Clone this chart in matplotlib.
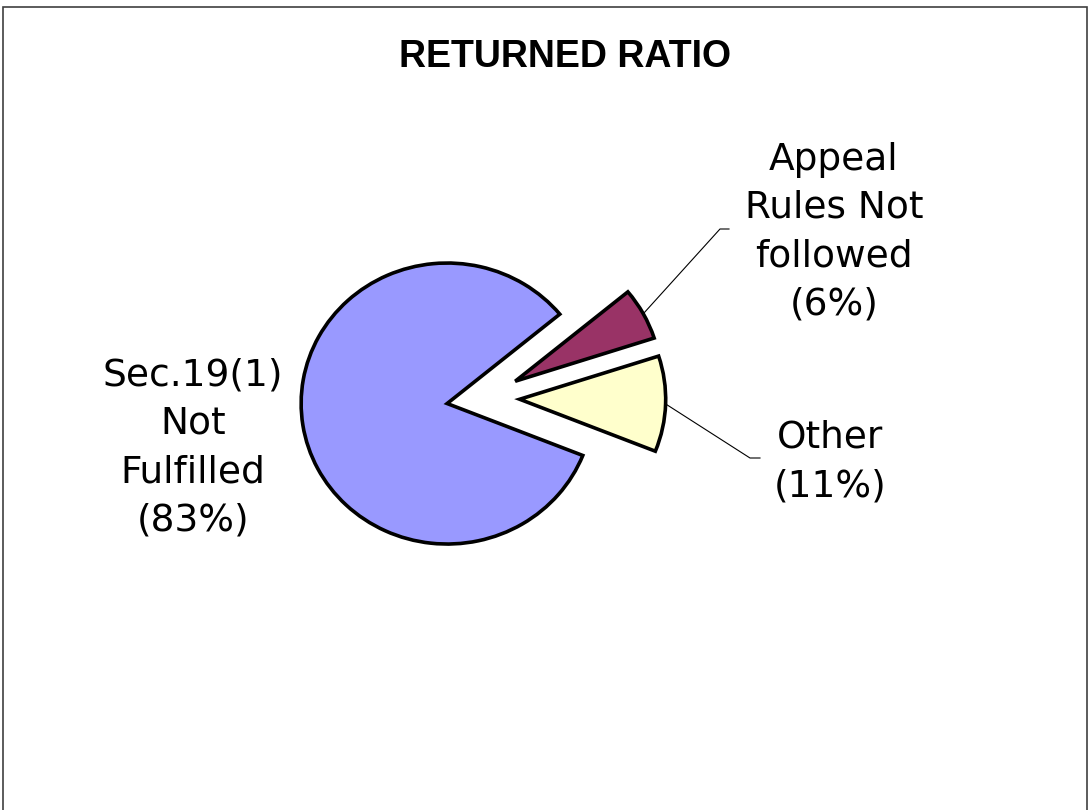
import matplotlib
matplotlib.use("Agg")
import matplotlib.pyplot as plt
from matplotlib.patches import Rectangle
import numpy as np

# slices, in drawing order (clockwise from the top edge of the small slice)
labels = ["Appeal\nRules Not\nfollowed\n(6%)", "Other\n(11%)", "Sec.19(1)\nNot\nFulfilled\n(83%)"]
shares = [6, 11, 83]
colors = ["#993366", "#FFFFCC", "#9999FF"]

W, H = 1092, 810
SX, SY = 146.0, 140.5      # pixels per pie radius (x, y)
CX, CY = 483.2, 398.1      # pie centre in pixels


def to_data(px, py):
    return (px - CX) / SX, (CY - py) / SY


fig = plt.figure(figsize=(W / 100, H / 100), dpi=100)
ax = fig.add_axes([0, 0, 1, 1])

wedges, _ = ax.pie(shares, colors=colors, startangle=39.5, counterclock=False,
                   explode=[0.25] * len(shares), radius=1.0,
                   wedgeprops=dict(edgecolor="black", linewidth=2.6))
ax.set_aspect("auto")
ax.set_xlim(-CX / SX, (W - CX) / SX)
ax.set_ylim((CY - H) / SY, CY / SY)
ax.axis("off")

# label places and leader elbows, in pixels
label_pos = [(834, 232), (830, 462), (193, 448)]
elbows = [[(720, 229), (729, 229)], [(750, 458), (760, 458)], None]

for w, lab, pos, elb in zip(wedges, labels, label_pos, elbows):
    tx, ty = to_data(*pos)
    ax.text(tx, ty, lab, ha="center", va="center", fontsize=27,
            family="DejaVu Sans", linespacing=1.43)
    if elb is None:
        continue
    mid = np.deg2rad((w.theta1 + w.theta2) / 2)
    x0 = w.center[0] + w.r * np.cos(mid)
    y0 = w.center[1] + w.r * np.sin(mid)
    pts = [to_data(*p) for p in elb]
    ax.plot([x0] + [p[0] for p in pts], [y0] + [p[1] for p in pts],
            color="black", linewidth=0.8)

tx, ty = to_data(565, 57)
ax.text(tx, ty, "RETURNED RATIO", ha="center", va="center", fontsize=27,
        fontweight="bold", family="Liberation Sans")

# chart area border
fig.patches.append(Rectangle((3 / W, -0.01), 1084 / W, 1.01 - 7 / H,
                             transform=fig.transFigure, fill=False,
                             edgecolor="#404040", linewidth=1.2))

fig.savefig("out.png", dpi=100)
